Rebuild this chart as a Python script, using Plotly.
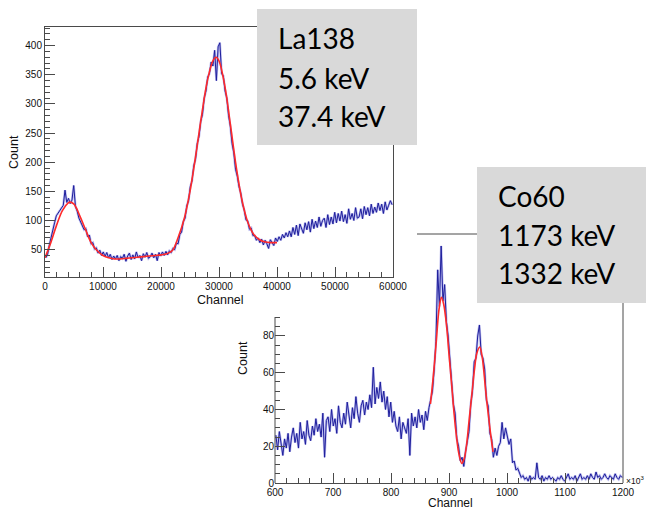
import numpy as np
import plotly.graph_objects as go

W, H = 648, 511

# ---------------- La138 spectrum (channels 0 .. 60000, 300-channel bins) ----------------
la_bin_start = 0
la_bin_width = 300
la_counts = [
    36, 42, 58, 71, 88, 96, 108, 112, 118, 121,
    126, 152, 131, 138, 129, 135, 160, 124, 116, 104,
    98, 92, 84, 86, 72, 75, 60, 62, 51, 53,
    44, 49, 40, 46, 38, 45, 36, 42, 33, 39,
    34, 40, 31, 38, 35, 42, 30, 39, 44, 33,
    41, 34, 46, 36, 40, 31, 43, 37, 45, 35,
    38, 44, 36, 42, 31, 45, 39, 46, 40, 47,
    41, 48, 45, 52, 50, 61, 60, 76, 80, 98,
    104, 125, 134, 158, 168, 194, 205, 232, 244, 270,
    282, 310, 322, 346, 352, 372, 365, 392, 340, 398,
    405, 352, 348, 322, 310, 280, 262, 232, 216, 188,
    176, 158, 147, 128, 118, 101, 99, 85, 87, 74,
    74, 66, 70, 62, 68, 58, 66, 60, 52, 67,
    62, 57, 70, 64, 72, 66, 76, 70, 79, 72,
    82, 72, 88, 76, 92, 74, 94, 84, 78, 96,
    84, 98, 80, 102, 86, 99, 88, 106, 90, 100,
    104, 88, 110, 93, 106, 94, 114, 96, 112, 99,
    116, 98, 110, 95, 120, 102, 112, 100, 122, 104,
    106, 120, 103, 124, 110, 122, 108, 128, 112, 123,
    114, 130, 117, 128, 112, 132, 118, 126, 134, 127,
]
la_fit_channel = [0, 1000, 2000, 3000, 4000, 4300, 5000, 6000, 7000, 8000,
                  9000, 10000, 11000, 12000, 13000, 14000, 15000, 16000, 17000, 18000,
                  19000, 20000, 21000, 22000, 23000, 24000, 25000, 26000, 27000, 28000,
                  29000, 29500, 30000, 31000, 32000, 33000, 34000, 35000, 36000, 37000,
                  38000, 39000, 40000]
la_fit_count = [36, 62, 92, 117, 130, 131.5, 128, 108, 84, 61,
                48, 40, 36, 34, 34, 35, 36, 37, 38, 39,
                40, 41, 43, 49, 72, 103, 150, 212, 280, 340,
                375, 380, 374, 331, 262, 190, 133, 96, 76, 67,
                63, 62, 62]

# ---------------- Co60 spectrum (channels 600 .. 1200 x10^3, 3-unit bins) ----------------
co_bin_start = 600
co_bin_width = 3
co_counts = [
    26, 18, 28, 21, 15, 24, 19, 27, 17, 25,
    30, 22, 27, 19, 33, 24, 28, 21, 34, 26,
    23, 31, 26, 35, 28, 32, 25, 38, 14, 34,
    36, 28, 40, 31, 35, 27, 42, 33, 30, 38,
    32, 44, 36, 30, 41, 35, 47, 38, 33, 42,
    45, 37, 44, 40, 48, 41, 63, 43, 52, 46,
    55, 44, 50, 40, 47, 36, 44, 33, 39, 31,
    28, 36, 24, 33, 30, 27, 35, 15, 38, 31,
    36, 30, 40, 33, 37, 29, 39, 34, 41, 46,
    50, 62, 77, 116, 96, 129, 99, 108, 88, 80,
    68, 60, 43, 38, 24, 20, 12, 14, 9, 17,
    24, 28, 43, 50, 66, 68, 80, 86, 70, 68,
    62, 45, 42, 27, 24, 14, 19, 15, 20, 22,
    33, 24, 30, 26, 21, 24, 11, 12, 7, 8,
    5, 3, 4, 2, 3, 1, 4, 2, 3, 2,
    11, 3, 2, 4, 1, 3, 2, 4, 2, 3,
    2, 1, 3, 2, 4, 2, 1, 3, 5, 2,
    3, 2, 4, 1, 3, 5, 2, 3, 2, 4,
    2, 5, 3, 2, 6, 3, 4, 2, 3, 5,
    3, 2, 4, 3, 2, 5, 3, 2, 4, 3,
]
co_fit_channel = [868, 872, 876, 879, 883, 887, 891, 896, 900, 905,
                  909, 913, 917, 922, 926, 930, 934, 939, 944, 948,
                  953, 957, 960, 963, 966, 969, 972, 976]
co_fit_count = [43, 55, 69, 81, 95, 101, 97, 85, 70, 52,
                37, 25, 16, 10.7, 13, 20, 32, 47, 62, 70.6,
                74, 69, 61, 51, 42, 34, 26, 17]

la_label = ["La138", "5.6 keV", "37.4 keV"]
co_label = ["Co60", "1173 keV", "1332 keV"]

la_channel = la_bin_start + la_bin_width * (np.arange(len(la_counts)) + 0.5)
co_channel = co_bin_start + co_bin_width * (np.arange(len(co_counts)) + 0.5)


def px_x(p):
    return p / W


def px_y(p):
    return 1 - p / H


# panel geometry in pixels
TOP = dict(l=45, r=393, t=27, b=277)
BOT = dict(l=275, r=623, t=234, b=483)
TOP_IMAGE_RIGHT = 417   # right edge of the upper panel's white area
TOP_IMAGE_BOTTOM = 317  # lower edge of the upper panel's white area

HIST = "#1e1e9c"
HALO = "rgba(70,70,210,0.35)"
FIT = "#ff2a2a"
AX = "#4a4a4a"
TICKFONT = dict(family="Liberation Sans, Arial, sans-serif", size=10, color="#111")

fig = go.Figure()
for xs, ys, xa, ya in [(la_channel, la_counts, "x", "y"), (co_channel, co_counts, "x2", "y2")]:
    fig.add_trace(go.Scatter(x=xs, y=ys, mode="lines", line=dict(color=HALO, width=2.4),
                             xaxis=xa, yaxis=ya, showlegend=False, hoverinfo="skip"))
    fig.add_trace(go.Scatter(x=xs, y=ys, mode="lines", line=dict(color=HIST, width=1),
                             xaxis=xa, yaxis=ya, showlegend=False, hoverinfo="skip"))
fig.add_trace(go.Scatter(x=la_fit_channel, y=la_fit_count, mode="lines", line_shape="spline",
                         line=dict(color=FIT, width=1.6), xaxis="x", yaxis="y",
                         showlegend=False, hoverinfo="skip"))
fig.add_trace(go.Scatter(x=co_fit_channel, y=co_fit_count, mode="lines", line_shape="spline",
                         line=dict(color=FIT, width=1.6), xaxis="x2", yaxis="y2",
                         showlegend=False, hoverinfo="skip"))

axis_common = dict(showgrid=False, zeroline=False, ticks="inside", tickcolor=AX,
                   tickfont=TICKFONT, fixedrange=True, automargin=False,
                   tickformat="d")

fig.update_layout(
    template="none",
    width=W, height=H,
    margin=dict(l=0, r=0, t=0, b=0, pad=0, autoexpand=False),
    paper_bgcolor="white", plot_bgcolor="rgba(0,0,0,0)",
    xaxis=dict(domain=[px_x(TOP["l"]), px_x(TOP["r"])], range=[0, 60000],
               anchor="y", dtick=10000, tick0=0, ticklen=10,
               showline=True, linecolor=AX, mirror=True,
               minor=dict(ticks="inside", dtick=2000, ticklen=5, tickcolor=AX),
               **axis_common),
    yaxis=dict(domain=[px_y(TOP["b"]), px_y(TOP["t"])], range=[3, 432],
               anchor="x", dtick=50, tick0=0, ticklen=10,
               showline=True, linecolor=AX, mirror=True,
               minor=dict(ticks="inside", dtick=10, ticklen=5, tickcolor=AX),
               **axis_common),
    xaxis2=dict(domain=[px_x(BOT["l"]), px_x(BOT["r"])], range=[600, 1200],
                anchor="y2", dtick=100, tick0=0, ticklen=10,
                showline=True, linecolor=AX,
                minor=dict(ticks="inside", dtick=20, ticklen=5, tickcolor=AX),
                **axis_common),
    yaxis2=dict(domain=[px_y(BOT["b"]), px_y(BOT["t"])], range=[0, 135.5],
                anchor="x2", tickmode="array", tickvals=[0, 20, 40, 60, 80], ticklen=10,
                showline=False,
                minor=dict(ticks="inside", tickmode="array",
                           tickvals=[v for v in range(5, 91, 5) if v % 20],
                           ticklen=5, tickcolor=AX),
                **axis_common),
)

shapes = []
line = dict(color=AX, width=1)
# lower panel frame (its upper-left part sits behind the upper panel)
shapes.append(dict(type="line", xref="paper", yref="paper",
                   x0=px_x(BOT["l"]), x1=px_x(BOT["l"]),
                   y0=px_y(TOP_IMAGE_BOTTOM), y1=px_y(BOT["b"]), line=line))
shapes.append(dict(type="line", xref="paper", yref="paper",
                   x0=px_x(TOP_IMAGE_RIGHT), x1=px_x(BOT["r"]),
                   y0=px_y(BOT["t"]), y1=px_y(BOT["t"]), line=line))
shapes.append(dict(type="line", xref="paper", yref="paper",
                   x0=px_x(BOT["r"]), x1=px_x(BOT["r"]),
                   y0=px_y(BOT["t"]), y1=px_y(BOT["b"]), line=line))
# grey label boxes
BOX = "#d9d9d9"
shapes.append(dict(type="rect", xref="paper", yref="paper", layer="above",
                   x0=px_x(257), x1=px_x(417), y0=px_y(145), y1=px_y(9),
                   fillcolor=BOX, line=dict(width=0)))
shapes.append(dict(type="rect", xref="paper", yref="paper", layer="above",
                   x0=px_x(477), x1=px_x(646), y0=px_y(303), y1=px_y(167),
                   fillcolor=BOX, line=dict(width=0)))
fig.update_layout(shapes=shapes)

ann = []
TITLEFONT = dict(family="Liberation Sans, Arial, sans-serif", size=12.5, color="#111")
for (x, y, text, angle) in [(14, 152, "Count", -90), (220, 300, "Channel", 0),
                            (243, 358, "Count", -90)]:
    ann.append(dict(xref="paper", yref="paper", x=px_x(x), y=px_y(y), text=text,
                    textangle=angle, showarrow=False, xanchor="center", yanchor="middle",
                    font=TITLEFONT))
ann.append(dict(xref="paper", yref="paper", x=px_x(450), y=px_y(511), text="Channel",
                showarrow=False, xanchor="center", yanchor="bottom", borderpad=0,
                font=dict(family="Liberation Sans, Arial, sans-serif", size=12, color="#111")))
ann.append(dict(xref="paper", yref="paper", x=px_x(624), y=px_y(480), text="×10<sup>3</sup>",
                showarrow=False, xanchor="left", yanchor="middle",
                font=dict(family="Liberation Sans, Arial, sans-serif", size=8.5, color="#111")))

BIGFONT = dict(family="Lato, Open Sans, sans-serif", size=28, color="black")
for i, t in enumerate(la_label):
    ann.append(dict(xref="paper", yref="paper", x=px_x(276), y=px_y(38.5 + 39 * i), text=t,
                    showarrow=False, xanchor="left", yanchor="middle", font=BIGFONT))
for i, t in enumerate(co_label):
    ann.append(dict(xref="paper", yref="paper", x=px_x(496), y=px_y(196 + 38.7 * i), text=t,
                    showarrow=False, xanchor="left", yanchor="middle", font=BIGFONT))
fig.update_layout(annotations=ann)

fig.write_html("out.html")
